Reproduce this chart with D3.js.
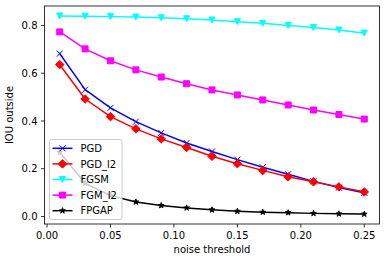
<!DOCTYPE html>
<html><head><meta charset="utf-8">
<script src="https://cdn.jsdelivr.net/npm/d3@7"></script>
<style>body{margin:0;background:#fff}svg{display:block;font-family:"DejaVu Sans",sans-serif}</style>
</head><body><svg id="c" width="386" height="262"></svg>
<script>
const thresholds = [0.01,0.03,0.05,0.07,0.09,0.11,0.13,0.15,0.17,0.19,0.21,0.23,0.25];
const pgd    = [0.682,0.531,0.455,0.397,0.350,0.308,0.272,0.238,0.206,0.177,0.147,0.121,0.099];
const pgdL2  = [0.636,0.492,0.418,0.367,0.325,0.289,0.252,0.221,0.193,0.166,0.145,0.124,0.103];
const fgsm   = [0.840,0.839,0.837,0.835,0.832,0.828,0.823,0.816,0.809,0.800,0.791,0.781,0.768];
const fgmL2  = [0.773,0.702,0.652,0.614,0.584,0.556,0.530,0.509,0.488,0.467,0.446,0.427,0.408];
const fpgap  = [0.269,0.139,0.088,0.061,0.046,0.036,0.028,0.022,0.018,0.016,0.013,0.011,0.010];
const seriesNames = ["PGD","PGD_l2","FGSM","FGM_l2","FPGAP"];
const xTicks = [0,0.05,0.10,0.15,0.20,0.25];
const yTicks = [0,0.2,0.4,0.6,0.8];

const series = [
  {name:seriesNames[0], values:pgd,   color:"#0000ff", marker:"x"},
  {name:seriesNames[1], values:pgdL2, color:"#ff0000", marker:"D"},
  {name:seriesNames[2], values:fgsm,  color:"#00ffff", marker:"v"},
  {name:seriesNames[3], values:fgmL2, color:"#ff00ff", marker:"s"},
  {name:seriesNames[4], values:fpgap, color:"#000000", marker:"*"}
];

const L=44.5, R=379.5, T=6, B=224;
const svg = d3.select("#c");
svg.append("rect").attr("width",386).attr("height",262).attr("fill","#fff");

const all = [].concat(...series.map(s=>s.values));
const ymin=d3.min(all), ymax=d3.max(all), ym=(ymax-ymin)*0.05;
const xmin=d3.min(thresholds), xmax=d3.max(thresholds), xm=(xmax-xmin)*0.05;
const x = d3.scaleLinear().domain([xmin-xm, xmax+xm]).range([L,R]);
const y = d3.scaleLinear().domain([ymin-ym, ymax+ym]).range([B,T]);

function markerPath(type){
  const s=6;
  if(type==="s"){const h=s/2;return `M${-h},${-h}H${h}V${h}H${-h}Z`;}
  if(type==="D"){const h=s*Math.SQRT2/2;return `M0,${-h}L${h},0L0,${h}L${-h},0Z`;}
  if(type==="v"){const h=s/2;return `M0,${h}L${-h},${-h}L${h},${-h}Z`;}
  if(type==="x"){const h=s/2;return `M${-h},${-h}L${h},${h}M${-h},${h}L${h},${-h}`;}
  if(type==="*"){
    const r=s/2, ri=r*0.381966; let p="";
    for(let i=0;i<10;i++){const a=-Math.PI/2+i*Math.PI/5;const rr=i%2?ri:r;p+=(i?"L":"M")+(rr*Math.cos(a)).toFixed(3)+","+(rr*Math.sin(a)).toFixed(3);}
    return p+"Z";
  }
}
function drawMarker(g, type, color, cx, cy){
  g.append("path").attr("d",markerPath(type)).attr("transform",`translate(${cx},${cy})`)
   .attr("fill",type==="x"?"none":color).attr("stroke",color).attr("stroke-width",1)
   .attr("stroke-linejoin","miter");
}

const clip = svg.append("clipPath").attr("id","clp").append("rect").attr("x",L).attr("y",T).attr("width",R-L).attr("height",B-T);
const plot = svg.append("g");
const line = d3.line().x((d,i)=>x(thresholds[i])).y(d=>y(d));
series.forEach(s=>{
  const g = plot.append("g");
  g.append("path").attr("d",line(s.values)).attr("fill","none").attr("stroke",s.color)
   .attr("stroke-width",1.5).attr("stroke-linejoin","round").attr("stroke-linecap","square");
  s.values.forEach((v,i)=>drawMarker(g,s.marker,s.color,x(thresholds[i]),y(v)));
});

// axes
const ax = svg.append("g");
ax.append("rect").attr("x",L).attr("y",T).attr("width",R-L).attr("height",B-T)
  .attr("fill","none").attr("stroke","#000").attr("stroke-width",0.8);
xTicks.forEach(t=>{
  const px=x(t);
  ax.append("line").attr("x1",px).attr("x2",px).attr("y1",B).attr("y2",B+3.5).attr("stroke","#000").attr("stroke-width",0.8);
  ax.append("text").attr("x",px).attr("y",239.3).attr("text-anchor","middle").attr("font-size",10).attr("fill","#000").text(d3.format(".2f")(t));
});
yTicks.forEach(t=>{
  const py=y(t);
  ax.append("line").attr("x1",L-3.5).attr("x2",L).attr("y1",py).attr("y2",py).attr("stroke","#000").attr("stroke-width",0.8);
  ax.append("text").attr("x",37.5).attr("y",py+3.6).attr("text-anchor","end").attr("font-size",10).attr("fill","#000").text(d3.format(".1f")(t));
});
ax.append("text").attr("x",(L+R)/2).attr("y",253).attr("text-anchor","middle").attr("font-size",10).text("noise threshold");
ax.append("text").attr("transform",`translate(12.5,${(T+B)/2}) rotate(-90)`).attr("text-anchor","middle").attr("font-size",10).text("IOU outside");

// legend
const lg = svg.append("g");
lg.append("rect").attr("x",49.5).attr("y",139.5).attr("width",72.5).attr("height",80).attr("rx",2)
  .attr("fill","#fff").attr("fill-opacity",0.8).attr("stroke","#cccccc").attr("stroke-width",1);
series.forEach((s,i)=>{
  const cy = 148.3 + i*15.6;
  lg.append("line").attr("x1",52.5).attr("x2",72.5).attr("y1",cy).attr("y2",cy).attr("stroke",s.color).attr("stroke-width",1.5);
  drawMarker(lg,s.marker,s.color,62.5,cy);
  lg.append("text").attr("x",80.5).attr("y",cy+3.6).attr("font-size",10).attr("fill","#000").text(s.name);
});
</script></body></html>
